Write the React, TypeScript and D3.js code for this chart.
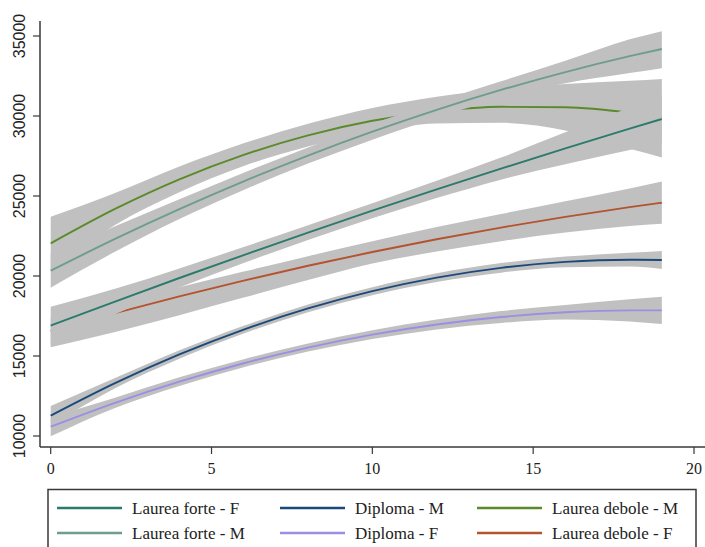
import React from "react";
import * as d3 from "d3";

// x positions (years) at which each series was read
const years = [0, 2, 4, 6, 8, 10, 12, 14, 16, 18, 19];

// Diploma - F
const dipFMean = [10580, 12074, 13396, 14548, 15526, 16335, 16972, 17437, 17731, 17853, 17850];
const dipFLo = [9980, 11754, 13126, 14298, 15276, 16065, 16662, 17067, 17281, 17153, 17000];
const dipFHi = [11180, 12394, 13666, 14798, 15776, 16605, 17282, 17807, 18181, 18553, 18700];

// Diploma - M
const dipMMean = [11270, 13301, 15094, 16650, 17971, 19054, 19901, 20510, 20882, 21019, 21000];
const dipMLo = [10670, 12981, 14834, 16410, 17731, 18804, 19631, 20210, 20552, 20589, 20440];
const dipMHi = [11870, 13621, 15354, 16890, 18211, 19304, 20171, 20810, 21212, 21449, 21560];

// Laurea debole - F (its start is covered by the Laurea forte - F band)
const ldFMean = [16561, 17676, 18727, 19715, 20639, 21499, 22295, 23027, 23696, 24301, 24580];
const ldFLo = [15550, 16500, 17550, 18650, 19750, 20780, 21535, 22177, 22716, 23131, 23260];
const ldFHi = [17361, 18300, 19300, 20275, 21239, 22179, 23055, 23877, 24676, 25471, 25900];

// Laurea debole - M
const ldMMean = [22040, 24190, 26040, 27570, 28790, 29700, 30290, 30575, 30545, 30200, 29910];
const ldMLo = [20380, 23190, 25240, 26870, 28090, 29000, 29530, 29575, 29095, 27950, 27410];
const ldMHi = [23700, 25190, 26840, 28290, 29510, 30500, 31210, 31675, 31995, 32200, 32310];

// Laurea forte - F
const lfFMean = [16900, 18404, 19875, 21311, 22712, 24080, 25413, 26712, 27977, 29208, 29810];
const lfFLo = [15720, 17604, 19275, 20811, 22252, 23610, 24873, 26022, 26977, 27878, 28310];
const lfFHi = [18080, 19204, 20475, 21811, 23172, 24550, 25953, 27402, 28977, 30538, 31310];

// Laurea forte - M
const lfMMean = [20330, 22316, 24178, 25916, 27530, 29020, 30386, 31628, 32746, 33740, 34190];
const lfMLo = [19270, 21516, 23558, 25376, 27030, 28520, 29896, 31088, 32046, 32690, 32990];
const lfMHi = [21390, 23116, 24798, 26456, 28030, 29520, 30876, 32168, 33446, 34790, 35300];

const xTicks = [0, 5, 10, 15, 20];
const yTicks = [10000, 15000, 20000, 25000, 30000, 35000];

type Series = { name: string; color: string; xs: number[]; mean: number[]; lo: number[]; hi: number[] };

// drawing order (later ones cover earlier ones)
const drawOrder: Series[] = [
  { name: "Diploma - F", color: "#9a8fe3", xs: years, mean: dipFMean, lo: dipFLo, hi: dipFHi },
  { name: "Diploma - M", color: "#1b4a7a", xs: years, mean: dipMMean, lo: dipMLo, hi: dipMHi },
  { name: "Laurea debole - F", color: "#b4532e", xs: years, mean: ldFMean, lo: ldFLo, hi: ldFHi },
  { name: "Laurea debole - M", color: "#5a8a2c", xs: years, mean: ldMMean, lo: ldMLo, hi: ldMHi },
  { name: "Laurea forte - F", color: "#2b7a6c", xs: years, mean: lfFMean, lo: lfFLo, hi: lfFHi },
  { name: "Laurea forte - M", color: "#6e9c8e", xs: years, mean: lfMMean, lo: lfMLo, hi: lfMHi },
];

const legendOrder = [
  "Laurea forte - F", "Diploma - M", "Laurea debole - M",
  "Laurea forte - M", "Diploma - F", "Laurea debole - F",
];

const SERIF = "Liberation Serif";
const SANS = "Liberation Sans";

export default function App() {
  const W = 705, H = 547;
  const x = d3.scaleLinear().domain([0, 20]).range([50.7, 694]);
  const y = d3.scaleLinear().domain([10000, 35000]).range([436, 36]);
  const curve = d3.curveMonotoneX;

  const area = (s: Series) =>
    d3.area<number>()
      .x((_, i) => x(s.xs[i]))
      .y0((_, i) => y(s.lo[i]))
      .y1((_, i) => y(s.hi[i]))
      .curve(curve)(s.mean) || "";
  const line = (s: Series) =>
    d3.line<number>()
      .x((_, i) => x(s.xs[i]))
      .y((d) => y(d))
      .curve(curve)(s.mean) || "";

  const axisColor = "#383838";
  const colX = [57, 280, 477];
  const rowY = [508, 533];
  const byName: Record<string, Series> = {};
  drawOrder.forEach((s) => (byName[s.name] = s));

  return (
    <svg width={W} height={H} style={{ position: "absolute", left: 0, top: 0, background: "#fff" }}>
      <rect x={0} y={0} width={W} height={H} fill="#fff" />
      {drawOrder.map((s) => (
        <g key={s.name}>
          <path d={area(s)} fill="#c0c0c0" stroke="none" />
          <path d={line(s)} fill="none" stroke={s.color} strokeWidth={1.9} />
        </g>
      ))}
      {/* axes */}
      <line x1={40} y1={21} x2={40} y2={447} stroke={axisColor} strokeWidth={1.5} />
      <line x1={40} y1={447} x2={705} y2={447} stroke={axisColor} strokeWidth={1.5} />
      {yTicks.map((v) => (
        <g key={"y" + v}>
          <line x1={33} x2={40} y1={y(v)} y2={y(v)} stroke={axisColor} strokeWidth={1.2} />
          <text
            transform={`translate(25,${y(v)}) rotate(-90)`}
            textAnchor="middle"
            style={{ fontFamily: SANS, fontSize: "16px" }}
            fill="#222"
          >
            {v}
          </text>
        </g>
      ))}
      {xTicks.map((v) => (
        <g key={"x" + v}>
          <line x1={x(v)} x2={x(v)} y1={447} y2={454} stroke={axisColor} strokeWidth={1.2} />
          <text
            x={x(v)}
            y={474}
            textAnchor="middle"
            style={{ fontFamily: SERIF, fontSize: "16px" }}
            fill="#222"
          >
            {v}
          </text>
        </g>
      ))}
      {/* legend */}
      <rect x={48} y={489.5} width={648} height={80} fill="#fff" stroke={axisColor} strokeWidth={1.5} />
      {legendOrder.map((name, i) => {
        const s = byName[name];
        const cx = colX[i % 3];
        const cy = rowY[Math.floor(i / 3)];
        return (
          <g key={"lg" + name}>
            <line x1={cx} x2={cx + 65} y1={cy} y2={cy} stroke={s.color} strokeWidth={2.6} />
            <text
              x={cx + 75}
              y={cy + 6}
              style={{ fontFamily: SERIF, fontSize: "17px" }}
              fill="#222"
            >
              {name}
            </text>
          </g>
        );
      })}
    </svg>
  );
}
